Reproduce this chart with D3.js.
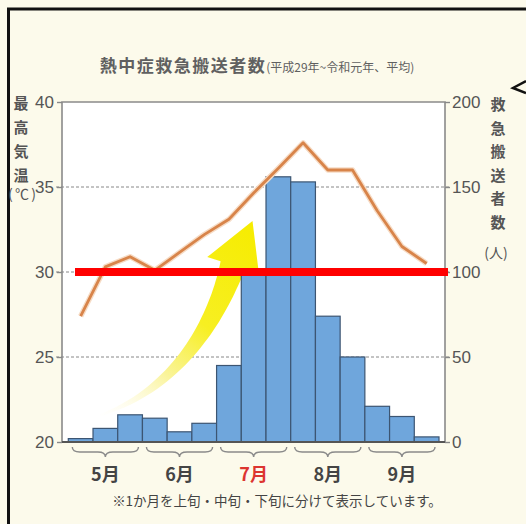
<!DOCTYPE html>
<html>
<head>
<meta charset="utf-8">
<script src="https://cdn.jsdelivr.net/npm/d3@7"></script>
<style>
  html, body { margin: 0; padding: 0; background: #fcfaeb; }
  svg { display: block; }
</style>
</head>
<body>
<div id="chart"></div>
<script>
// 上旬・中旬・下旬 for May..September
const periods = ["5上", "5中", "5下", "6上", "6中", "6下", "7上", "7中", "7下", "8上", "8中", "8下", "9上", "9中", "9下"];
const months = ["5月", "6月", "7月", "8月", "9月"];
const transports = [2, 8, 16, 14, 6, 11, 45, 99, 156, 153, 74, 50, 21, 15, 3];   // 人 (right axis)
const maxTemp = [27.4, 30.3, 30.9, 30.1, 31.15, 32.2, 33.1, 34.65, 36.1, 37.6, 36.0, 36.0, 33.6, 31.5, 30.5]; // ℃ (left axis)
const tempTicks = [20, 25, 30, 35, 40];
const countTicks = [0, 50, 100, 150, 200];

const width = 526, height = 524;
const frame = { left: 62, right: 445, top: 102, bottom: 442 };

const svg = d3.select("#chart").append("svg")
  .attr("width", width)
  .attr("height", height);

const jp = "'Noto Sans CJK JP', 'Noto Sans', sans-serif";
const num = "'Liberation Sans', Arial, sans-serif";

// outer black border (top + left only)
svg.append("path")
  .attr("d", "M8.5,524 L8.5,9 L526,9")
  .attr("fill", "none")
  .attr("stroke", "#111")
  .attr("stroke-width", 3);
// callout pointer
svg.append("path")
  .attr("d", "M526,81 L513,88 L526,93")
  .attr("fill", "none")
  .attr("stroke", "#111")
  .attr("stroke-width", 2.5);

// scales
const x = d3.scaleBand().domain(periods).range([68.3, 439]).padding(0);
const yL = d3.scaleLinear().domain([20, 40]).range([frame.bottom, frame.top]);
const yR = d3.scaleLinear().domain([0, 200]).range([frame.bottom, frame.top]);

// plot background
svg.append("rect")
  .attr("x", frame.left).attr("y", frame.top)
  .attr("width", frame.right - frame.left)
  .attr("height", frame.bottom - frame.top)
  .attr("fill", "#fff");

// dashed gridlines
svg.append("g").selectAll("line")
  .data([25, 30, 35])
  .join("line")
  .attr("x1", 56).attr("x2", 451)
  .attr("y1", d => yL(d)).attr("y2", d => yL(d))
  .attr("stroke", "#888")
  .attr("stroke-width", 1)
  .attr("stroke-dasharray", "3,2");

// yellow arrow (decoration)
const defs = svg.append("defs");
const grad = defs.append("linearGradient")
  .attr("id", "arrowGrad")
  .attr("gradientUnits", "userSpaceOnUse")
  .attr("x1", 98).attr("y1", 416).attr("x2", 249).attr("y2", 219);
grad.append("stop").attr("offset", 0).attr("stop-color", "#fffbe8").attr("stop-opacity", 0);
grad.append("stop").attr("offset", 0.3).attr("stop-color", "#faf49a");
grad.append("stop").attr("offset", 0.55).attr("stop-color", "#f7ef22");
grad.append("stop").attr("offset", 1).attr("stop-color", "#f6ec00");

function arrowPath() {
  const P0 = [98, 416], C1 = [188, 386], C2 = [221, 304], P3 = [233, 265];
  const bez = t => {
    const u = 1 - t;
    return [
      u*u*u*P0[0] + 3*u*u*t*C1[0] + 3*u*t*t*C2[0] + t*t*t*P3[0],
      u*u*u*P0[1] + 3*u*u*t*C1[1] + 3*u*t*t*C2[1] + t*t*t*P3[1]
    ];
  };
  const der = t => {
    const u = 1 - t;
    return [
      3*u*u*(C1[0]-P0[0]) + 6*u*t*(C2[0]-C1[0]) + 3*t*t*(P3[0]-C2[0]),
      3*u*u*(C1[1]-P0[1]) + 6*u*t*(C2[1]-C1[1]) + 3*t*t*(P3[1]-C2[1])
    ];
  };
  const left = [], right = [];
  const n = 40;
  for (let i = 0; i <= n; i++) {
    const t = i / n;
    const p = bez(t), d = der(t);
    const len = Math.hypot(d[0], d[1]);
    const nx = -d[1] / len, ny = d[0] / len;
    const w = 1 + 12 * t;
    left.push([p[0] + nx * w, p[1] + ny * w]);
    right.push([p[0] - nx * w, p[1] - ny * w]);
  }
  const d = der(1), len = Math.hypot(d[0], d[1]);
  const tx = d[0] / len, ty = d[1] / len, nx = -ty, ny = tx;
  const tip = [P3[0] + tx * 46 + 6, P3[1] + ty * 46];
  const wl = [P3[0] + nx * 27, P3[1] + ny * 27];
  const wr = [P3[0] - nx * 27, P3[1] - ny * 27];
  const pts = left.concat([wl, tip, wr]).concat(right.reverse());
  return "M" + pts.map(p => p[0].toFixed(1) + "," + p[1].toFixed(1)).join("L") + "Z";
}
svg.append("path")
  .attr("d", arrowPath())
  .attr("fill", "url(#arrowGrad)");

// bars
svg.append("g").selectAll("rect")
  .data(transports)
  .join("rect")
  .attr("x", (d, i) => x(periods[i]))
  .attr("y", d => yR(d))
  .attr("width", x.bandwidth())
  .attr("height", d => yR(0) - yR(d))
  .attr("fill", "#6fa6dc")
  .attr("stroke", "#3c5572")
  .attr("stroke-width", 1.2);

// temperature line
const line = d3.line()
  .x((d, i) => x(periods[i]) + x.bandwidth() / 2)
  .y(d => yL(d));
svg.append("path")
  .datum(maxTemp)
  .attr("d", line)
  .attr("fill", "none")
  .attr("stroke", "#f6dcc6")
  .attr("stroke-width", 5.5)
  .attr("stroke-linejoin", "round");
svg.append("path")
  .datum(maxTemp)
  .attr("d", line)
  .attr("fill", "none")
  .attr("stroke", "#d8844a")
  .attr("stroke-width", 2.8)
  .attr("stroke-linejoin", "round");

// frame
svg.append("path")
  .attr("d", `M${frame.left},${frame.bottom} L${frame.left},${frame.top} L${frame.right},${frame.top} L${frame.right},${frame.bottom}`)
  .attr("fill", "none")
  .attr("stroke", "#8a8a8a")
  .attr("stroke-width", 1.6);
svg.append("line")
  .attr("x1", frame.left).attr("x2", frame.right)
  .attr("y1", frame.bottom).attr("y2", frame.bottom)
  .attr("stroke", "#555")
  .attr("stroke-width", 2);

// axes
const axL = svg.append("g")
  .attr("transform", `translate(${frame.left},0)`)
  .call(d3.axisLeft(yL).tickValues(tempTicks).tickSize(5).tickPadding(3));
const axR = svg.append("g")
  .attr("transform", `translate(${frame.right},0)`)
  .call(d3.axisRight(yR).tickValues(countTicks).tickSize(5).tickPadding(2));
[axL, axR].forEach(ax => {
  ax.select(".domain").remove();
  ax.selectAll(".tick line").attr("stroke", "#888").attr("stroke-width", 1.4);
  ax.selectAll(".tick text")
    .attr("fill", "#555")
    .style("font-family", num)
    .style("font-size", "17px");
});

// axis titles (vertical)
const leftTitle = ["最", "高", "気", "温"];
svg.append("g").selectAll("text")
  .data(leftTitle)
  .join("text")
  .attr("x", 21)
  .attr("y", (d, i) => 109 + i * 24)
  .attr("text-anchor", "middle")
  .attr("fill", "#555")
  .style("font-family", jp)
  .style("font-weight", "bold")
  .style("font-size", "15px")
  .text(d => d);
svg.append("text")
  .attr("x", 22).attr("y", 199)
  .attr("text-anchor", "middle")
  .attr("fill", "#555")
  .style("font-family", jp)
  .style("font-size", "14px")
  .attr("textLength", 28)
  .text("(℃)");

const rightTitle = ["救", "急", "搬", "送", "者", "数"];
svg.append("g").selectAll("text")
  .data(rightTitle)
  .join("text")
  .attr("x", 498)
  .attr("y", (d, i) => 110 + i * 23.5)
  .attr("text-anchor", "middle")
  .attr("fill", "#555")
  .style("font-family", jp)
  .style("font-weight", "bold")
  .style("font-size", "15px")
  .text(d => d);
svg.append("text")
  .attr("x", 496).attr("y", 258)
  .attr("text-anchor", "middle")
  .attr("fill", "#555")
  .style("font-family", jp)
  .style("font-size", "14px")
  .text("(人)");

// month braces + labels
const monthStart = i => x(periods[i * 3]);
const monthEnd = i => x(periods[i * 3 + 2]) + x.bandwidth();
function brace(x0, x1, y0, h) {
  const xm = (x0 + x1) / 2, r = h / 2;
  return `M${x0},${y0} Q${x0},${y0 + r} ${x0 + r * 1.5},${y0 + r}` +
    ` L${xm - r * 1.5},${y0 + r} Q${xm},${y0 + r} ${xm},${y0 + h}` +
    ` Q${xm},${y0 + r} ${xm + r * 1.5},${y0 + r}` +
    ` L${x1 - r * 1.5},${y0 + r} Q${x1},${y0 + r} ${x1},${y0}`;
}
svg.append("g").selectAll("path")
  .data(months)
  .join("path")
  .attr("d", (d, i) => brace(monthStart(i) + 4, monthEnd(i) - 4, 447, 10))
  .attr("fill", "none")
  .attr("stroke", "#8a8a8a")
  .attr("stroke-width", 1.4);
svg.append("g").selectAll("text")
  .data(months)
  .join("text")
  .attr("x", (d, i) => (monthStart(i) + monthEnd(i)) / 2)
  .attr("y", 481)
  .attr("text-anchor", "middle")
  .attr("fill", d => d === "7月" ? "#dc3530" : "#444")
  .style("font-family", jp)
  .style("font-weight", "bold")
  .style("font-size", "18px")
  .text(d => d);

// title
const title = svg.append("text")
  .attr("x", 257).attr("y", 72)
  .attr("text-anchor", "middle")
  .attr("fill", "#606060")
  .style("font-family", jp);
title.append("tspan")
  .style("font-size", "17px")
  .style("font-weight", "bold")
  .style("letter-spacing", "1.5px")
  .text("熱中症救急搬送者数");
title.append("tspan")
  .style("font-size", "12px")
  .text("(平成29年~令和元年、平均)");

// footnote
svg.append("text")
  .attr("x", 277).attr("y", 506)
  .attr("text-anchor", "middle")
  .attr("fill", "#444")
  .style("font-family", jp)
  .style("font-size", "13.5px")
  .text("※1か月を上旬・中旬・下旬に分けて表示しています。");

// red reference line at 30℃
svg.append("line")
  .attr("x1", 75).attr("x2", 448)
  .attr("y1", yL(30)).attr("y2", yL(30))
  .attr("stroke", "#ff0000")
  .attr("stroke-width", 8);
</script>
</body>
</html>
